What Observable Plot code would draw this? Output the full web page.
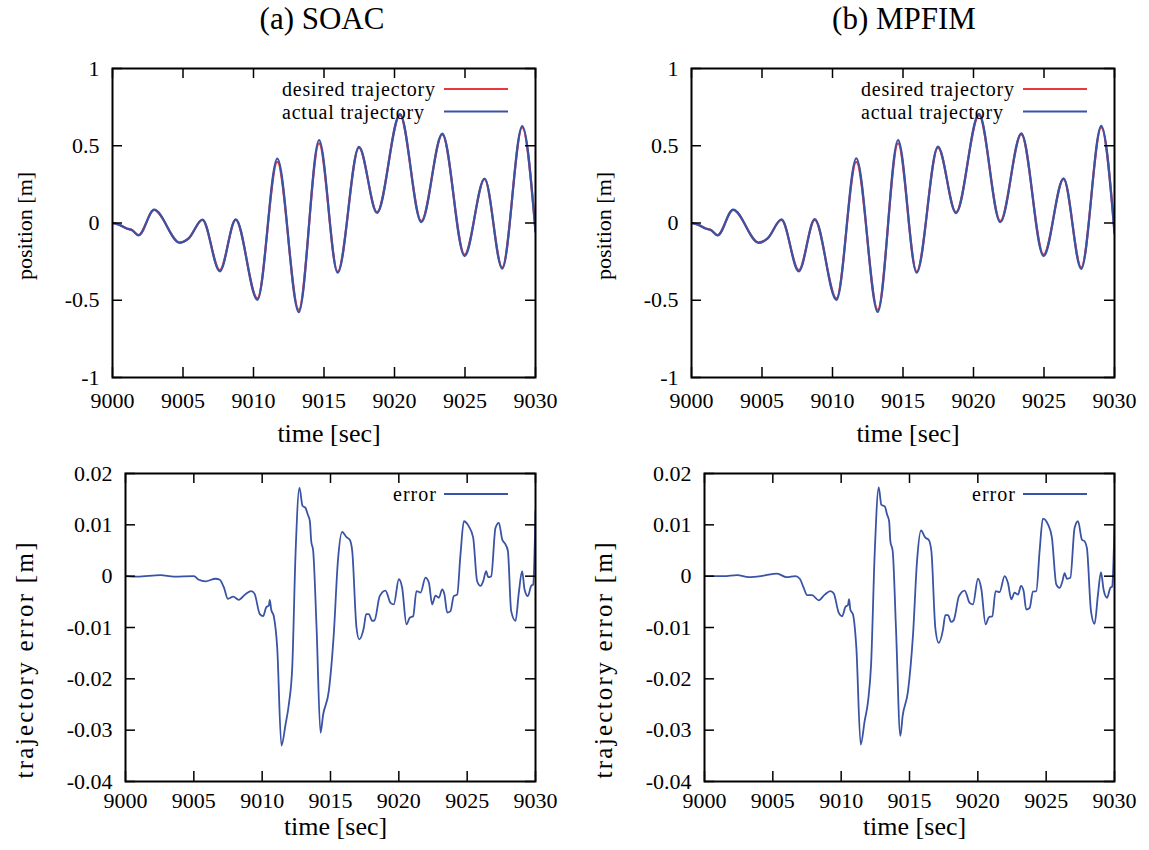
<!DOCTYPE html>
<html>
<head>
<meta charset="utf-8">
<script src="https://cdn.jsdelivr.net/npm/d3@7"></script>
<script src="https://cdn.jsdelivr.net/npm/@observablehq/plot@0.6"></script>
<style>
  body { margin: 0; background: #fff; }
  #fig { position: relative; width: 1149px; height: 850px; font-family: "Liberation Serif", "Times New Roman", serif; color: #000; }
  #fig svg, #fig svg text { font-family: "Liberation Serif", "Times New Roman", serif !important; }
  .title { position: absolute; top: 3px; width: 400px; text-align: center; font-size: 31px; line-height: 31px; }
  .panel { position: absolute; }
  .panel svg { overflow: visible; }
</style>
</head>
<body>
<div id="fig">
  <div class="title" style="left:122px">(a) SOAC</div>
  <div class="title" style="left:704px">(b) MPFIM</div>
</div>
<script>
// ---- tick labels ----
const timeTicks = [9000, 9005, 9010, 9015, 9020, 9025, 9030];
const positionTicks = [-1, -0.5, 0, 0.5, 1];
const errorTicks = [-0.04, -0.03, -0.02, -0.01, 0, 0.01, 0.02];

// ---- position trajectories (time in s, position in m) ----
const posTime = [9000, 9000.5, 9001, 9001.4, 9001.85, 9002.95, 9004.77, 9005.4, 9006.38, 9007.61, 9008.74,
  9010.28, 9011.69, 9013.21, 9014.65, 9015.97, 9017.48, 9018.76, 9020.39, 9021.9, 9023.39, 9024.97,
  9026.39, 9027.64, 9029.06, 9030];
const desiredPos = [0, -0.012, -0.035, -0.047, -0.078, 0.084, -0.126, -0.099, 0.020, -0.305, 0.020,
  -0.488, 0.395, -0.562, 0.515, -0.315, 0.488, 0.070, 0.698, 0.012, 0.574, -0.205,
  0.284, -0.288, 0.618, -0.05];
const soacActualPos = [0, -0.012, -0.035, -0.047, -0.080, 0.086, -0.128, -0.100, 0.022, -0.313, 0.024,
  -0.497, 0.417, -0.577, 0.536, -0.322, 0.493, 0.065, 0.705, 0.006, 0.579, -0.214,
  0.288, -0.296, 0.627, -0.06];
const mpfimActualPos = [0, -0.012, -0.036, -0.047, -0.081, 0.087, -0.129, -0.100, 0.023, -0.314, 0.025,
  -0.498, 0.418, -0.576, 0.537, -0.321, 0.494, 0.064, 0.706, 0.005, 0.580, -0.215,
  0.289, -0.297, 0.628, -0.07];

// ---- trajectory errors (m) ----
const soacErrTime = [9000, 9000.85, 9002.56, 9003.54, 9005.0, 9005.37, 9005.85, 9006.59, 9006.9, 9007.2,
  9007.49, 9007.88, 9008.29, 9008.78, 9009.2, 9009.44, 9009.83, 9010.07, 9010.29, 9010.49,
  9010.56, 9010.66, 9010.85, 9011.1, 9011.41, 9011.71, 9011.95, 9012.2, 9012.44, 9012.73,
  9012.95, 9013.17, 9013.34, 9013.49, 9013.59, 9013.73, 9013.98, 9014.27, 9014.46, 9014.88,
  9015.24, 9015.54, 9015.85, 9016.17, 9016.41, 9016.59, 9016.9, 9017.1, 9017.44, 9017.61,
  9017.8, 9018.05, 9018.22, 9018.6, 9019.02, 9019.39, 9019.63, 9020.0, 9020.24, 9020.56,
  9020.8, 9021.05, 9021.29, 9021.59, 9021.95, 9022.2, 9022.44, 9022.68, 9022.93, 9023.17,
  9023.34, 9023.54, 9023.78, 9024.02, 9024.27, 9024.51, 9024.76, 9025.12, 9025.44, 9025.73,
  9025.98, 9026.17, 9026.39, 9026.54, 9026.76, 9027.07, 9027.32, 9027.56, 9027.8, 9027.98,
  9028.22, 9028.54, 9028.78, 9029.02, 9029.2, 9029.44, 9029.68, 9029.83, 9030];
const soacErr = [0, -0.0001, 0.0002, -0.0001, 0, -0.0007, -0.001, -0.0005, -0.0007, -0.0022,
  -0.0044, -0.004, -0.0046, -0.0035, -0.0029, -0.0034, -0.0074, -0.0078, -0.0061, -0.0057,
  -0.0046, -0.0065, -0.0078, -0.0139, -0.033, -0.0289, -0.025, -0.0178, 0.0042, 0.0172,
  0.0137, 0.0133, 0.012, 0.0107, 0.0068, 0.005, -0.01, -0.0305, -0.027, -0.0223,
  -0.0113, 0.0029, 0.0086, 0.0076, 0.0071, 0.0049, -0.01, -0.0123, -0.01, -0.0074,
  -0.0074, -0.0087, -0.0086, -0.0039, -0.0028, -0.0052, -0.0055, -0.0006, -0.0022, -0.0094,
  -0.0081, -0.0078, -0.0029, -0.0032, -0.0003, -0.0013, -0.0055, -0.0038, -0.0042, -0.0026,
  -0.0036, -0.0071, -0.0068, -0.0039, -0.0036, 0.0042, 0.0107, 0.0097, 0.0075, -0.001,
  -0.0019, -0.001, 0.001, -0.0002, 0, 0.0094, 0.0104, 0.0072, 0.0062, 0.0049,
  -0.0068, -0.0087, -0.0032, 0.001, -0.0026, -0.0039, -0.0019, -0.0016, 0.0127];

const mpfimErrTime = [9000, 9001.41, 9002.39, 9003.24, 9004.34, 9005.31, 9006.0, 9006.65, 9006.97, 9007.26,
  9007.51, 9007.87, 9008.36, 9008.8, 9009.21, 9009.46, 9009.82, 9010.07, 9010.31, 9010.5,
  9010.58, 9010.67, 9010.87, 9011.11, 9011.43, 9011.72, 9011.97, 9012.19, 9012.45, 9012.75,
  9012.94, 9013.19, 9013.36, 9013.51, 9013.6, 9013.77, 9014.01, 9014.33, 9014.5, 9014.89,
  9015.26, 9015.55, 9015.84, 9016.16, 9016.4, 9016.6, 9016.89, 9017.14, 9017.45, 9017.62,
  9017.82, 9018.04, 9018.23, 9018.62, 9019.04, 9019.4, 9019.64, 9020.01, 9020.25, 9020.57,
  9020.81, 9021.06, 9021.3, 9021.59, 9021.96, 9022.2, 9022.45, 9022.69, 9022.94, 9023.16,
  9023.35, 9023.54, 9023.79, 9024.03, 9024.28, 9024.52, 9024.76, 9025.13, 9025.42, 9025.74,
  9025.98, 9026.18, 9026.35, 9026.52, 9026.77, 9027.08, 9027.33, 9027.62, 9027.81, 9027.98,
  9028.28, 9028.54, 9028.79, 9029.01, 9029.2, 9029.45, 9029.69, 9029.83, 9030];
const mpfimErr = [0, 0, 0.0002, -0.0002, 0.0001, 0.0005, -0.0002, 0, -0.0005, -0.0023,
  -0.0037, -0.0037, -0.0047, -0.0036, -0.0029, -0.0034, -0.0071, -0.0078, -0.006, -0.0056,
  -0.0045, -0.0065, -0.0075, -0.0139, -0.0328, -0.0282, -0.0243, -0.0172, 0.0042, 0.0173,
  0.0139, 0.0136, 0.012, 0.0107, 0.0068, 0.0049, -0.0101, -0.0311, -0.0272, -0.0224,
  -0.0113, 0.0029, 0.0089, 0.0075, 0.0071, 0.0049, -0.0101, -0.013, -0.0104, -0.0076,
  -0.0076, -0.0089, -0.0086, -0.0039, -0.0028, -0.0052, -0.0055, -0.0005, -0.0024, -0.0094,
  -0.008, -0.0078, -0.0029, -0.0031, 0, -0.0013, -0.0045, -0.0032, -0.0036, -0.0019,
  -0.0029, -0.0065, -0.0062, -0.003, -0.0029, 0.0049, 0.0112, 0.0101, 0.0075, -0.0016,
  -0.0023, -0.0011, 0.0006, -0.0005, -0.0003, 0.0094, 0.0107, 0.0071, 0.0068, 0.0055,
  -0.0068, -0.0093, -0.0036, 0.0008, -0.0026, -0.0042, -0.0023, -0.002, 0.01];

const RED = "#e8383d";
const BLUE = "#3a53a5";
const FONT = '"Liberation Serif", "Times New Roman", serif';

const rows = (t, v) => t.map((d, i) => ({t: d, v: v[i]}));
const fmt = d => String(+d.toFixed(3));

function panel({left, top, width, height, mL, mR, mT, mB, yDomain, yTicks, series,
                ylabel, ylabelSize, ylabelLength, ylabelDy, xPad, xlabelDy, legend, legendMode}) {
  const frameW = width - mL - mR;
  const frameH = height - mT - mB;
  const chart = Plot.plot({
    width, height,
    marginLeft: mL, marginRight: mR, marginTop: mT, marginBottom: mB,
    style: {fontFamily: FONT, fontSize: "22px", color: "#000", background: "transparent"},
    x: {domain: [9000, 9030]},
    y: {domain: yDomain},
    marks: [
      ...series.map(s => Plot.line(rows(s.t, s.v), {
        x: "t", y: "v", stroke: s.color, strokeWidth: s.width, curve: "monotone-x", clip: true
      })),
      // inward ticks on all four sides
      Plot.ruleX(timeTicks, {insetTop: frameH - 10, strokeWidth: 1.5}),
      Plot.ruleX(timeTicks, {insetBottom: frameH - 10, strokeWidth: 1.5}),
      Plot.ruleY(yTicks, {insetRight: frameW - 10, strokeWidth: 1.5}),
      Plot.ruleY(yTicks, {insetLeft: frameW - 10, strokeWidth: 1.5}),
      Plot.frame({stroke: "#000", strokeWidth: 2}),
      Plot.axisX({ticks: timeTicks, tickSize: 0, tickPadding: xPad, tickFormat: fmt, label: null, fontSize: 22}),
      Plot.axisY({ticks: yTicks, tickSize: 0, tickPadding: 13, tickFormat: fmt, label: null, fontSize: 22}),
      Plot.text(["time [sec]"], {text: d => d, frameAnchor: "bottom", lineAnchor: "bottom",
        dx: 5, dy: xlabelDy, fontSize: 26}),
      Plot.text([ylabel], {text: d => d, frameAnchor: "left", rotate: -90, textAnchor: "middle",
        lineAnchor: "middle", dx: mL >= 125 ? -101 : -88, dy: ylabelDy, fontSize: ylabelSize})
    ]
  });

  const svg = d3.select(chart);

  // spread the rotated axis title over its drawn length
  if (ylabelLength) {
    svg.selectAll("text").filter(function() { return this.textContent === ylabel; })
      .attr("textLength", ylabelLength).attr("lengthAdjust", "spacing");
  }

  // key in the top-right corner of the frame
  const right = width - mR;
  const g = svg.append("g").attr("font-size", 20);
  legend.forEach((item, i) => {
    const yLine = mT + 21 + i * 22.5;
    g.append("line")
      .attr("x1", right - 91).attr("x2", right - 27)
      .attr("y1", yLine).attr("y2", yLine)
      .attr("stroke", item.color).attr("stroke-width", 2);
    const txt = g.append("text")
      .attr("y", yLine + 7)
      .attr("fill", "#000")
      .attr("textLength", item.length)
      .attr("lengthAdjust", "spacing")
      .text(item.label);
    if (legendMode === "left") txt.attr("x", right - 253).attr("text-anchor", "start");
    else txt.attr("x", right - 99).attr("text-anchor", "end");
  });

  const wrap = document.createElement("div");
  wrap.className = "panel";
  wrap.style.left = left + "px";
  wrap.style.top = top + "px";
  wrap.appendChild(chart);
  document.getElementById("fig").appendChild(wrap);
}

const posLegend = [
  {label: "desired trajectory", color: RED, length: 153},
  {label: "actual trajectory", color: BLUE, length: 142}
];
const errLegend = [{label: "error", color: BLUE, length: 43}];

panel({left: 0, top: 40, width: 575, height: 410, mL: 112, mR: 40, mT: 28, mB: 73,
  yDomain: [-1, 1], yTicks: positionTicks, ylabel: "position [m]", ylabelSize: 22, ylabelDy: 3, xPad: 15, xlabelDy: 64,
  series: [{t: posTime, v: desiredPos, color: RED, width: 2.2}, {t: posTime, v: soacActualPos, color: BLUE, width: 2.2}],
  legend: posLegend, legendMode: "left"});

panel({left: 575, top: 40, width: 574, height: 410, mL: 116, mR: 35, mT: 28, mB: 73,
  yDomain: [-1, 1], yTicks: positionTicks, ylabel: "position [m]", ylabelSize: 22, ylabelDy: 3, xPad: 15, xlabelDy: 64,
  series: [{t: posTime, v: desiredPos, color: RED, width: 2.2}, {t: posTime, v: mpfimActualPos, color: BLUE, width: 2.2}],
  legend: posLegend, legendMode: "left"});

panel({left: 0, top: 450, width: 575, height: 400, mL: 125, mR: 40, mT: 23, mB: 69,
  yDomain: [-0.04, 0.02], yTicks: errorTicks, ylabel: "trajectory error [m]", ylabelSize: 25, ylabelLength: 236, ylabelDy: 33,
  xPad: 11, xlabelDy: 53,
  series: [{t: soacErrTime, v: soacErr, color: BLUE, width: 1.8}],
  legend: errLegend, legendMode: "right"});

panel({left: 575, top: 450, width: 574, height: 400, mL: 129, mR: 35, mT: 23, mB: 69,
  yDomain: [-0.04, 0.02], yTicks: errorTicks, ylabel: "trajectory error [m]", ylabelSize: 25, ylabelLength: 236, ylabelDy: 33,
  xPad: 11, xlabelDy: 53,
  series: [{t: mpfimErrTime, v: mpfimErr, color: BLUE, width: 1.8}],
  legend: errLegend, legendMode: "right"});
</script>
</body>
</html>
